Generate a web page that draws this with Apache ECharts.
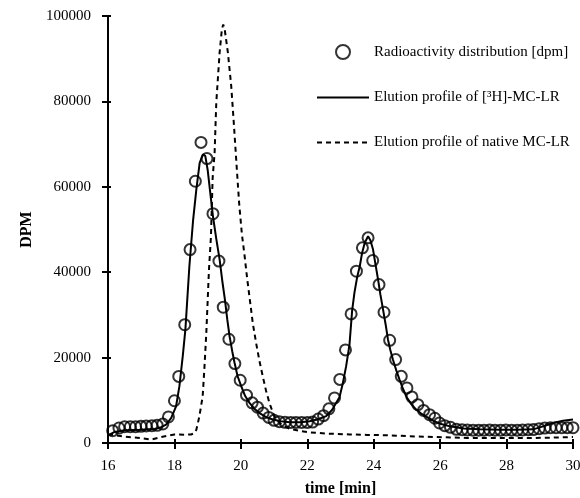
<!DOCTYPE html>
<html>
<head>
<meta charset="utf-8">
<script src="https://cdn.jsdelivr.net/npm/echarts@6/dist/echarts.min.js"></script>
<style>html,body{margin:0;padding:0;background:#fff}#c{width:580px;height:498px}</style>
</head>
<body>
<div id="c"></div>
<script>
// ---- data ----
const xTicks = [16, 18, 20, 22, 24, 26, 28, 30];
const yTicks = [0, 20000, 40000, 60000, 80000, 100000];
const seriesNames = ["Radioactivity distribution [dpm]", "Elution profile of [³H]-MC-LR", "Elution profile of native MC-LR"];

const radioTime = [16.14,16.33,16.50,16.67,16.83,16.99,17.15,17.32,17.48,17.65,17.82,18.00,18.13,18.31,18.47,18.63,18.80,18.98,19.16,19.34,19.47,19.64,19.82,19.98,20.17,20.34,20.50,20.67,20.84,21.00,21.16,21.33,21.50,21.66,21.83,22.00,22.16,22.33,22.49,22.65,22.82,22.98,23.15,23.32,23.48,23.66,23.83,23.97,24.16,24.31,24.48,24.66,24.83,25.00,25.15,25.33,25.50,25.68,25.84,25.98,26.14,26.31,26.49,26.66,26.82,26.99,27.16,27.32,27.49,27.65,27.82,27.98,28.15,28.32,28.48,28.65,28.81,28.98,29.15,29.32,29.49,29.66,29.83,30.00];
const radioDPM = [2880,3500,3800,3800,3800,3900,4000,4050,4130,4450,6100,9900,15600,27700,45300,61300,70400,66600,53700,42600,31800,24300,18600,14700,11200,9400,8400,7000,6000,5300,5000,4850,4830,4830,4830,4830,4900,5600,6400,8000,10550,14900,21800,30240,40230,45700,48050,42730,37100,30620,24050,19530,15610,12890,10780,8980,7640,6630,5800,4690,4060,3660,3200,3100,3050,3000,3000,3000,3050,3000,3000,3050,3000,3000,3050,3100,3150,3350,3500,3580,3580,3580,3600,3580];

const h3Time = [16.0,16.2,16.5,17.0,17.4,17.6,17.75,17.9,18.05,18.15,18.25,18.33,18.45,18.56,18.66,18.76,18.86,18.93,19.0,19.08,19.16,19.26,19.36,19.44,19.52,19.59,19.66,19.74,19.81,19.9,20.01,20.13,20.26,20.4,20.56,20.75,20.96,21.2,21.47,21.8,22.07,22.3,22.57,22.75,22.87,22.97,23.07,23.17,23.27,23.35,23.42,23.5,23.58,23.65,23.73,23.83,23.9,23.98,24.05,24.13,24.2,24.28,24.36,24.43,24.5,24.58,24.68,24.78,24.88,24.98,25.13,25.28,25.43,25.58,25.8,26.0,26.3,26.7,27.2,27.8,28.3,28.8,29.1,29.4,29.7,30.0];
const h3DPM = [1800,2600,3000,3100,3300,3700,4300,5800,8600,13300,20300,26600,41400,52000,59400,65600,67600,67200,64000,58500,53100,47800,43000,38000,33600,29000,25000,21500,18800,15700,13300,11000,9400,8100,7000,6100,5500,5100,4850,4850,5100,5500,6300,7800,9400,10700,14000,18000,23000,31000,35200,38800,41400,44500,46900,48400,47500,45300,42000,38300,34800,31300,27700,24200,21800,19500,17000,14800,12700,10900,9100,7800,6900,6200,5200,4500,3900,3400,3200,3100,3100,3200,3900,4700,5200,5500];

const nativeTime = [16.0,16.5,17.0,17.3,17.6,18.0,18.3,18.5,18.6,18.66,18.75,18.85,18.9,18.96,19.04,19.1,19.15,19.21,19.26,19.36,19.43,19.47,19.52,19.61,19.71,19.78,19.88,19.95,20.03,20.11,20.19,20.27,20.36,20.46,20.56,20.66,20.76,20.86,20.96,21.06,21.25,21.47,21.8,22.07,22.6,23.27,23.8,24.5,25.0,25.8,26.8,27.5,28.5,29.3,30.0];
const nativeDPM = [2000,1500,1150,800,1400,2000,1950,2000,2300,3100,6200,10900,17200,25800,40600,48400,62000,68000,79700,91400,97000,98000,96500,91400,83600,75800,64000,56000,49000,44000,38500,33600,28000,23400,19200,15600,12200,9400,7200,5500,4100,3300,2800,2500,2200,2000,1900,1800,1600,1400,1200,1150,1150,1250,1400];

const pairs = (xs, ys) => xs.map((x, i) => [x, ys[i]]);
const FONT = "'Liberation Serif', 'Times New Roman', serif";

const xBase = {type: 'value', min: 16, max: 30, interval: 2, position: 'bottom', splitLine: {show: false}};
const yBase = {type: 'value', min: 0, max: 100000, interval: 20000, position: 'left', splitLine: {show: false}};

const chart = echarts.init(document.getElementById('c'), null, {renderer: 'canvas'});
chart.setOption({
  animation: false,
  backgroundColor: '#fff',
  textStyle: {fontFamily: FONT, color: '#000'},
  grid: {left: 108, right: 7, top: 16, bottom: 55, containLabel: false, outerBoundsMode: 'none'},
  legend: {
    orient: 'vertical',
    left: 311, top: 39,
    itemWidth: 52, itemHeight: 14,
    itemGap: 30,
    textStyle: {fontFamily: FONT, fontSize: 15, color: '#000'},
    data: [
      {name: seriesNames[0]},
      {name: seriesNames[1], itemStyle: {opacity: 0}},
      {name: seriesNames[2], itemStyle: {opacity: 0}}
    ]
  },
  xAxis: [
    Object.assign({}, xBase, {
      name: 'time [min]', nameLocation: 'middle', nameGap: 38,
      nameTextStyle: {fontFamily: FONT, fontSize: 16, fontWeight: 'bold', color: '#000'},
      axisLine: {lineStyle: {color: '#000', width: 2}},
      axisTick: {length: 6, lineStyle: {color: '#000', width: 2}},
      axisLabel: {fontFamily: FONT, fontSize: 15, color: '#000', margin: 16,
        formatter: v => (xTicks.includes(v) ? String(v) : '')}
    }),
    Object.assign({}, xBase, {
      axisLine: {show: false},
      axisTick: {inside: true, length: 4, lineStyle: {color: '#000', width: 2}},
      axisLabel: {show: false}
    })
  ],
  yAxis: [
    Object.assign({}, yBase, {
      name: 'DPM', nameLocation: 'middle', nameGap: 69, nameRotate: 90,
      nameTextStyle: {fontFamily: FONT, fontSize: 16, fontWeight: 'bold', color: '#000'},
      axisLine: {show: true, lineStyle: {color: '#000', width: 2}},
      axisTick: {show: true, length: 6, lineStyle: {color: '#000', width: 2}},
      axisLabel: {fontFamily: FONT, fontSize: 15, color: '#000', margin: 17,
        formatter: v => (yTicks.includes(v) ? String(v) : '')}
    }),
    Object.assign({}, yBase, {
      axisLine: {show: false},
      axisTick: {show: true, inside: true, length: 3, lineStyle: {color: '#000', width: 2}},
      axisLabel: {show: false}
    })
  ],
  series: [
    {
      name: seriesNames[0], type: 'scatter', z: 5,
      symbol: 'circle', symbolSize: 11,
      itemStyle: {color: 'rgba(255,255,255,0)', borderColor: '#000', borderWidth: 2},
      data: pairs(radioTime, radioDPM)
    },
    {
      name: seriesNames[1], type: 'line', showSymbol: false, symbol: 'none',
      lineStyle: {color: '#000', width: 2},
      itemStyle: {color: '#000'},
      data: pairs(h3Time, h3DPM)
    },
    {
      name: seriesNames[2], type: 'line', showSymbol: false, symbol: 'none',
      lineStyle: {color: '#000', width: 2, type: [5, 4]},
      itemStyle: {color: '#000'},
      data: pairs(nativeTime, nativeDPM)
    }
  ]
});
</script>
</body>
</html>
